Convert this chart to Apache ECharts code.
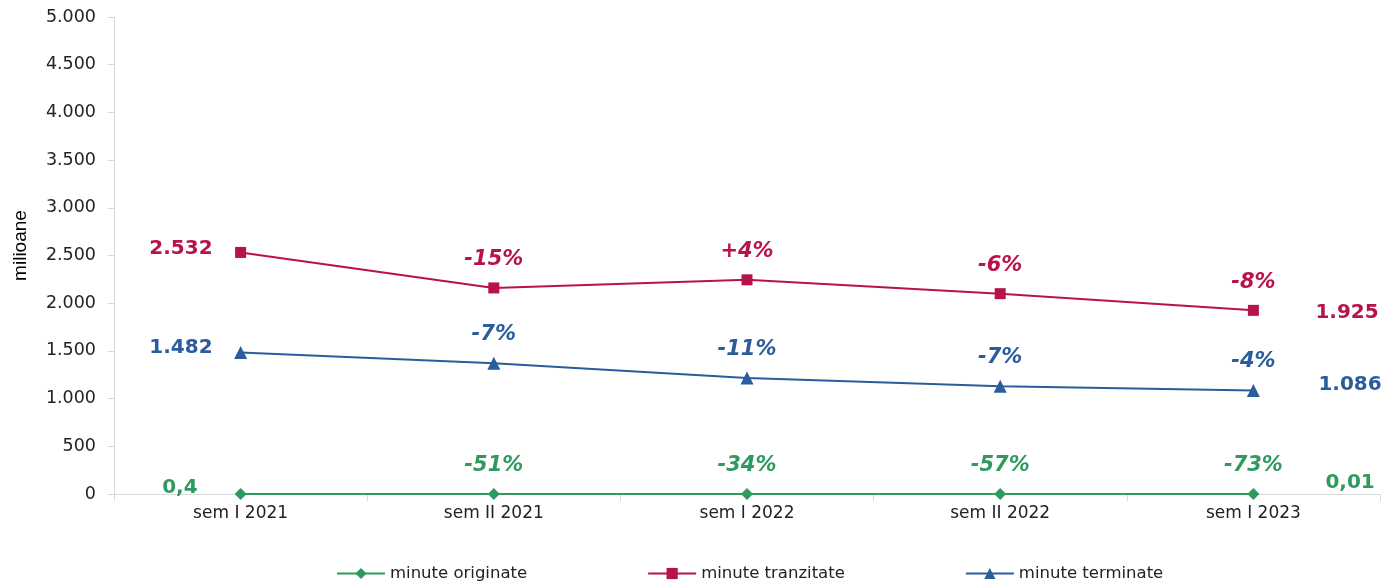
<!DOCTYPE html>
<html>
<head>
<meta charset="utf-8">
<script src="https://cdn.jsdelivr.net/npm/echarts@6/dist/echarts.min.js"></script>
<style>
  html, body { margin: 0; padding: 0; background: #fff; }
  #chart { width: 1384px; height: 584px; }
</style>
</head>
<body>
<div id="chart"></div>
<script>
const categories = ['sem I 2021', 'sem II 2021', 'sem I 2022', 'sem II 2022', 'sem I 2023']

const originate = [0.4, 0.2, 0.13, 0.06, 0.01]
const tranzitate = [2532, 2160, 2245, 2100, 1925]
const terminate = [1482, 1370, 1215, 1130, 1086]

const originateChg = ['', '-51%', '-34%', '-57%', '-73%']
const tranzitateChg = ['', '-15%', '+4%', '-6%', '-8%']
const terminateChg = ['', '-7%', '-11%', '-7%', '-4%']

const RED = '#B8124A'
const BLUE = '#2B5C9B'
const GREEN = '#2F9A5E'
const FONT = 'DejaVu Sans'

// ro-RO style: 2.532 / 0,4
function fmt(v) {
  const parts = String(v).split('.')
  const int = parts[0].replace(/\B(?=(\d{3})+(?!\d))/g, '.')
  return parts[1] ? int + ',' + parts[1] : int
}

// first / last values go on markPoints, the % changes on the points themselves
function lineSeries(name, values, changes, color, symbol, size, lbl) {
  const last = values.length - 1
  const valueLabel = {
    color,
    fontFamily: FONT,
    fontSize: 20,
    fontWeight: 'bold',
    formatter: (p) => fmt(p.data.coord[1])
  }
  return {
    name,
    type: 'line',
    data: values.map((v, i) => ({
      value: v,
      label: { show: i > 0, formatter: changes[i] }
    })),
    symbol,
    symbolSize: size,
    lineStyle: { color, width: 2 },
    itemStyle: { color },
    label: {
      position: 'top',
      distance: 12,
      color,
      fontFamily: FONT,
      fontSize: 21,
      fontWeight: 'bold',
      fontStyle: 'italic'
    },
    markPoint: {
      symbol: 'circle',
      symbolSize: 0,
      silent: true,
      itemStyle: { color },
      data: [
        { coord: [0, values[0]], label: Object.assign({}, valueLabel, { position: 'left', distance: lbl.startDist, offset: [0, lbl.firstDy] }) },
        { coord: [last, values[last]], label: Object.assign({}, valueLabel, { position: 'right', distance: lbl.endDist, offset: [0, lbl.lastDy] }) }
      ]
    },
    z: 3
  }
}

const myChart = echarts.init(document.getElementById('chart'))

const option = {
  animation: false,
  textStyle: { fontFamily: FONT },
  grid: { left: 114, right: 4, top: 17, bottom: 90 },
  legend: {
    data: ['minute originate', 'minute tranzitate', 'minute terminate'],
    left: 331,
    bottom: -3,
    itemWidth: 48,
    itemHeight: 14,
    itemGap: 120,
    textStyle: { fontFamily: FONT, fontSize: 16.5, color: '#222' }
  },
  xAxis: {
    type: 'category',
    data: categories,
    boundaryGap: true,
    axisLine: { lineStyle: { color: '#d9d9d9' } },
    axisTick: { show: true, length: 7, lineStyle: { color: '#d9d9d9' } },
    axisLabel: { color: '#222', fontSize: 17, fontFamily: FONT, margin: 11 }
  },
  yAxis: {
    type: 'value',
    min: 0,
    max: 5000,
    interval: 500,
    name: 'milioane',
    nameLocation: 'middle',
    nameGap: 84,
    nameTextStyle: { color: '#000', fontSize: 19, fontFamily: 'Liberation Sans', padding: [0, 0, 0, 20] },
    splitLine: { show: false },
    axisLine: { show: true, lineStyle: { color: '#d9d9d9' } },
    axisTick: { show: true, length: 6, lineStyle: { color: '#d9d9d9' } },
    axisLabel: {
      color: '#222',
      fontSize: 17.5,
      fontFamily: FONT,
      margin: 18,
      formatter: (v) => fmt(v)
    }
  },
  series: [
    lineSeries('minute originate', originate, originateChg, GREEN, 'diamond', 12, { startDist: 43, endDist: 72, firstDy: -6, lastDy: -11 }),
    lineSeries('minute tranzitate', tranzitate, tranzitateChg, RED, 'rect', 11, { startDist: 28, endDist: 62, firstDy: -4, lastDy: 2 }),
    lineSeries('minute terminate', terminate, terminateChg, BLUE, 'triangle', 13, { startDist: 28, endDist: 65, firstDy: -5, lastDy: -6 })
  ]
}

myChart.setOption(option)
</script>
</body>
</html>
